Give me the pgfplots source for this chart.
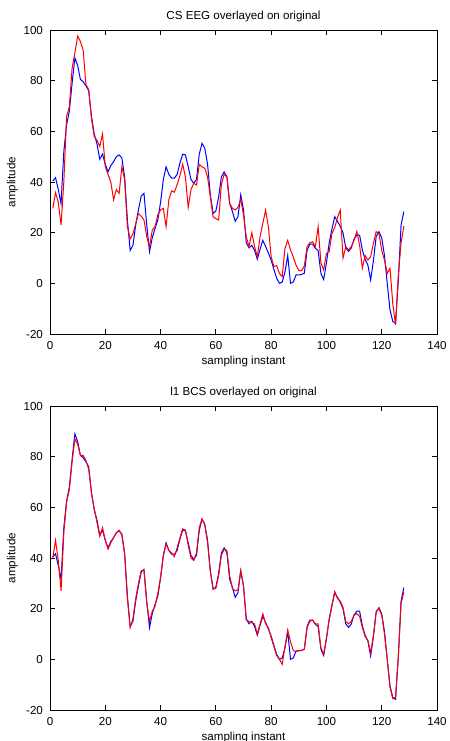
\documentclass[border=0pt]{standalone}
\usepackage{fontspec}
\setmainfont{Liberation Sans}
\usepackage{pgfplots}
\usepackage{pgfplotstable}
\pgfplotsset{compat=1.18}

% n = sampling instant, orig = original EEG, cs = CS result, bcs = l1 BCS result
\pgfplotstableread{
n orig cs bcs
1 40.4 29.6 40
2 41.7 35.8 47
3 37 32 39
4 31.5 23 27
5 52 40 50
6 62.5 65.8 62
7 68 69.7 67
8 79 85 78
9 89 91 87
10 86 97.6 85
11 80.5 95.5 80.5
12 79.6 92 80.5
13 78 78.5 78.5
14 76 76.5 75
15 66 65 65.5
16 59 57.9 59.5
17 55 56.5 54
18 49 54 48.5
19 51 59 52
20 47 46 47
21 44 43 43.5
22 46.5 40 46
23 48 33 48
24 50 37 50
25 50.7 35.5 51
26 49.5 46 49
27 42 41 41.5
28 25 22.4 24
29 13 17.5 12.5
30 15 19.5 16
31 23 23.5 24
32 29 27.6 30
33 34.5 26.5 35
34 35.5 25 35
35 23 18.4 22
36 12.5 14.5 15
37 18 21 19
38 21.7 22.4 21
39 25 27 26
40 32 29 32.5
41 41 29.6 41
42 46 22.4 45.5
43 43 33 43
44 41.5 36.5 42
45 41.5 36 40.5
46 43 39 44
47 47.5 42.5 48
48 51 47 51.5
49 50.7 42 51
50 46 30 45
51 41 37 40
52 39.5 39.5 39
53 41 38.8 42
54 51 47 52
55 55.3 46 55.5
56 53.3 45.4 53
57 47 42 46
58 35 34.2 34.5
59 27.6 26.3 28
60 28.5 25.5 28
61 34 25 33
62 42 39 41
63 44 43 43.5
64 42 42 43
65 31.6 31.5 33
66 28.3 29.6 28
67 24.5 29 27
68 26.3 30 27.5
69 35 33 35
70 29 27 29
71 16 18.4 15.5
72 14 14.5 15
73 15 20 14.5
74 13 14.5 14
75 9.5 10.5 10
76 13.5 18.4 14
77 17 23.7 18
78 14.5 28.9 14
79 12 22.4 12.5
80 9.2 10.5 8.5
81 5.5 6.6 5
82 2 7 1.5
83 0 3.9 0
84 0.5 2.6 -2
85 4.5 13.8 5
86 11 17 11.5
87 0 13.2 7
88 0.5 10.5 3.5
89 3.3 7.2 3
90 3.3 5 3.5
91 3.5 5 3.5
92 4 6.8 4
93 13 14.5 12.5
94 15.5 16 15
95 15.5 16.4 15.5
96 13.8 14.5 14
97 13 22.4 14
98 4 8 4.5
99 1.5 5.3 2
100 8 11.8 8.5
101 16 12.5 15.5
102 21.5 19.7 21
103 26.3 22 26.8
104 24.5 26 24
105 22.5 28.9 23
106 20 10 20.5
107 14 14.5 15
108 12.6 13.2 14
109 14 14.5 15
110 17.5 17 17.5
111 19 20.5 18
112 19 15 17
113 13.2 6 12.5
114 9.5 11 9
115 7.2 9.2 7.5
116 1.3 10.5 2.5
117 9 15.8 9.5
118 18.5 20.4 19
119 20.4 19.7 20
120 18 13 17.5
121 11 9.2 10
122 0 3.9 0
123 -10.5 6 -11
124 -15 -8 -15.5
125 -15.8 -16.4 -15
126 1 3 1
127 23 16 22
128 28.3 22.6 26.5
}\eeg

\pgfplotsset{
  matlab/.style={
    width=193.5pt, height=152pt, scale only axis,
    xmin=0, xmax=140, ymin=-20, ymax=100,
    xtick={0,20,...,140}, ytick={-20,0,...,100},
    tick align=inside, major tick length=2.5pt,
    axis line style={black, line width=0.4pt},
    every tick/.style={black, line width=0.4pt},
    font=\fontsize{5.8}{7}\selectfont,
    /pgf/number format/assume math mode=true,
    xlabel={sampling instant}, ylabel={amplitude},
    every axis title/.style={at={(0.5,1)}, anchor=south, yshift=0.5pt},
    xlabel style={yshift=3.5pt},
    ylabel style={yshift=-4pt},
  }
}

\begin{document}
\begin{tikzpicture}
\clip (0,-370.5pt) rectangle (225pt,0);

\begin{axis}[matlab, at={(25pt,-15pt)}, anchor=north west,
  title={CS EEG overlayed on original}]
\addplot[blue, line width=0.5pt] table[x=n, y=orig] {\eeg};
\addplot[red, line width=0.5pt] table[x=n, y=cs] {\eeg};
\end{axis}

\begin{axis}[matlab, at={(25pt,-203pt)}, anchor=north west,
  title={l1 BCS overlayed on original}]
\addplot[blue, line width=0.5pt] table[x=n, y=orig] {\eeg};
\addplot[red, line width=0.5pt] table[x=n, y=bcs] {\eeg};
\end{axis}
\end{tikzpicture}
\end{document}
